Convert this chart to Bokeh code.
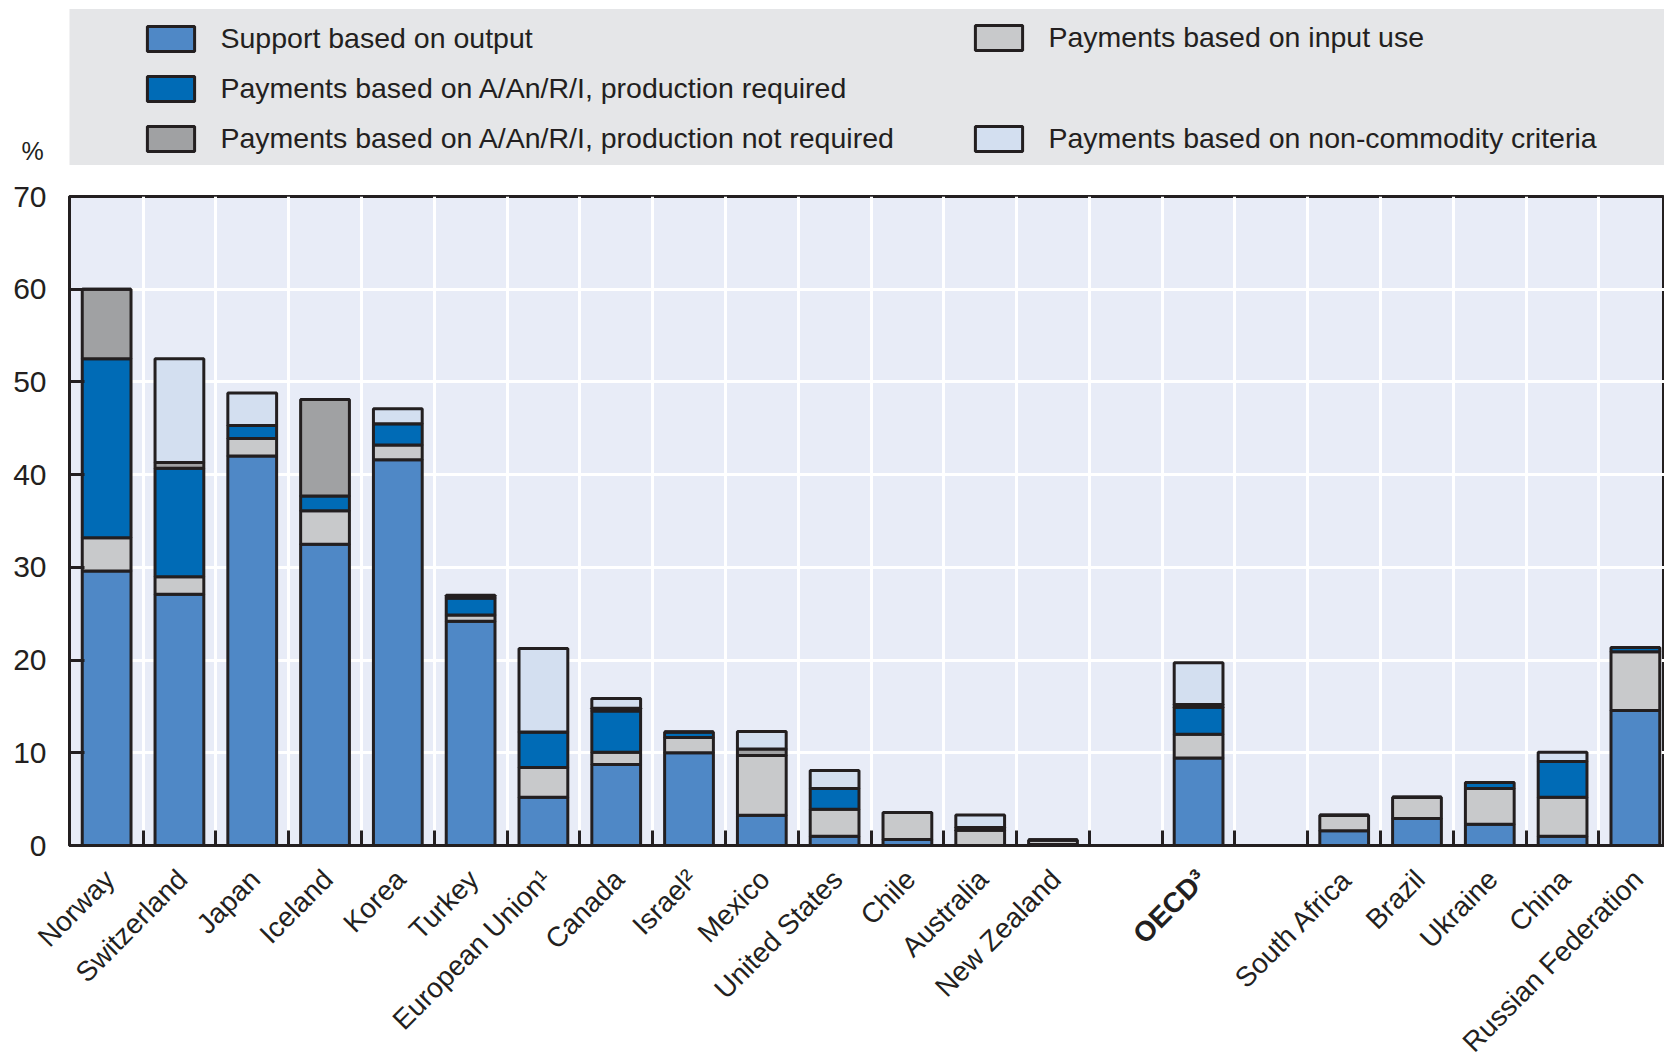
from bokeh.plotting import figure
from bokeh.models import Range1d, FixedTicker, Legend, LegendItem, ColumnDataSource
from bokeh.layouts import column
from bokeh.embed import file_html
from bokeh.resources import INLINE
from bokeh.core.properties import value

# ---------------- data ----------------
countries = ["Norway", "Switzerland", "Japan", "Iceland", "Korea", "Turkey",
             "European Union¹", "Canada", "Israel²", "Mexico", "United States",
             "Chile", "Australia", "New Zealand", "", "OECD³", "",
             "South Africa", "Brazil", "Ukraine", "China", "Russian Federation"]
bold_label = "OECD³"

output_support    = [29.6, 27.1, 42.0, 32.5, 41.6, 24.2, 5.2, 8.75, 10.0, 3.25, 1.0, 0.65, 0.0, 0.1, 0, 9.45, 0, 1.6, 2.9, 2.3, 1.0, 14.55]
input_use         = [3.6, 1.9, 1.9, 3.6, 1.6, 0.65, 3.2, 1.3, 1.65, 6.45, 2.9, 2.9, 1.65, 0.5, 0, 2.55, 0, 1.65, 2.3, 3.85, 4.2, 6.35]
prod_required     = [19.3, 11.7, 1.4, 1.6, 2.3, 1.85, 3.85, 4.45, 0.6, 0.0, 2.25, 0.0, 0.3, 0.0, 0, 2.9, 0, 0.0, 0.0, 0.65, 3.85, 0.45]
prod_not_required = [7.5, 0.6, 0.0, 10.4, 0.0, 0.0, 0.0, 0.3, 0.0, 0.7, 0.0, 0.0, 0.0, 0.0, 0, 0.3, 0, 0.0, 0.0, 0.0, 0.0, 0.0]
non_commodity     = [0.0, 11.2, 3.5, 0.0, 1.6, 0.3, 9.0, 1.05, 0.0, 1.9, 1.95, 0.0, 1.35, 0.0, 0, 4.5, 0, 0.0, 0.0, 0.0, 1.0, 0.0]

series_keys = ["output", "input", "prod_req", "prod_not_req", "non_comm"]
series_names = ["Support based on output",
                "Payments based on input use",
                "Payments based on A/An/R/I, production required",
                "Payments based on A/An/R/I, production not required",
                "Payments based on non-commodity criteria"]
series_colors = ["#4f88c6", "#c8c9cb", "#006bb6", "#a0a1a3", "#d3dff0"]
y_ticks = [0, 10, 20, 30, 40, 50, 60, 70]
unit_label = "%"

# ---------------- style / layout constants ----------------
INK = "#231f20"
FONT = "'Liberation Sans', Arial, sans-serif"
W = 1664
LEG_H = 165
MAIN_TOP, FRAME_H, MAIN_BOTTOM = 31, 649, 17
MAIN_H = MAIN_TOP + FRAME_H + MAIN_BOTTOM
LAB_H = 1059 - LEG_H - MAIN_H
LEFT = 69
X0, X1 = -0.51, 21.40
NAN = float("nan")

# ---------------- legend panel ----------------
lf = figure(width=W, height=LEG_H, x_range=Range1d(0, W), y_range=Range1d(0, LEG_H),
            toolbar_location=None, output_backend="svg",
            x_axis_type=None, y_axis_type=None,
            min_border_left=0, min_border_right=0, min_border_top=0, min_border_bottom=0,
            background_fill_color="white", border_fill_color="white",
            outline_line_color=None)
lf.frame_align = False
lf.xgrid.visible = False
lf.ygrid.visible = False
lf.quad(left=[LEFT], right=[W], bottom=[0.5], top=[156.5],
        fill_color="#e5e6e8", line_color=None)

# legend swatch carriers: styled like the bars, with no drawable point
dummy = {}
for k, c in zip(series_keys, series_colors):
    dummy[k] = lf.vbar(x=[NAN], top=[NAN], width=1, fill_color=c, line_color=INK, line_width=3)
name_of = dict(zip(series_keys, series_names))

common = dict(orientation="vertical", padding=0, margin=0,
              glyph_width=59, glyph_height=31, label_standoff=21,
              label_text_font=FONT, label_text_font_size="28.5px", label_text_color=INK,
              background_fill_alpha=0, border_line_color=None)

legA = Legend(items=[LegendItem(label=name_of[k], renderers=[dummy[k]])
                     for k in ["output", "prod_req", "prod_not_req"]],
              location=(140.5, 10.5), spacing=17, **common)
legB = Legend(items=[LegendItem(label=name_of[k], renderers=[dummy[k]])
                     for k in ["input", "non_comm"]],
              location=(968.5, 10.5), spacing=68, **common)
lf.add_layout(legA)
lf.add_layout(legB)
lf.text(x=[32], y=[15], text=[unit_label], text_align="center", text_baseline="middle",
        text_font=value(FONT), text_font_size="25px", text_color=INK)

# ---------------- main chart ----------------
n = len(countries)
xs = list(range(n))
source = ColumnDataSource(dict(x=xs, output=output_support, input=input_use,
                               prod_req=prod_required, prod_not_req=prod_not_required,
                               non_comm=non_commodity))

p = figure(width=W, height=MAIN_H, x_range=Range1d(X0, X1), y_range=Range1d(0, 70),
           toolbar_location=None, output_backend="svg",
           min_border_left=LEFT, min_border_right=0, min_border_top=MAIN_TOP,
           min_border_bottom=MAIN_BOTTOM,
           background_fill_color="#e8ecf7", border_fill_color="white",
           outline_line_color=INK, outline_line_width=3)
p.frame_align = False

p.vbar_stack(series_keys, x="x", width=0.67, source=source,
             fill_color=series_colors, line_color=INK, line_width=3)

boundaries = [i + 0.5 for i in range(n - 1)]
xt = FixedTicker(ticks=[], minor_ticks=boundaries)
p.xaxis.ticker = xt
p.xaxis.major_tick_line_color = None
p.xaxis.major_label_standoff = 0
p.xaxis.major_label_text_font_size = "0px"
p.xaxis.minor_tick_in = 15
p.xaxis.minor_tick_out = 0
p.xaxis.minor_tick_line_color = INK
p.xaxis.minor_tick_line_width = 3
p.xaxis.axis_line_color = INK
p.xaxis.axis_line_width = 3

p.xgrid.ticker = xt
p.xgrid.grid_line_color = None
p.xgrid.minor_grid_line_color = "white"
p.xgrid.minor_grid_line_width = 3

yt = FixedTicker(ticks=y_ticks)
p.yaxis.ticker = yt
p.yaxis.major_tick_in = 15
p.yaxis.major_tick_out = 0
p.yaxis.major_tick_line_color = INK
p.yaxis.major_tick_line_width = 3
p.yaxis.minor_tick_line_color = None
p.yaxis.axis_line_color = INK
p.yaxis.axis_line_width = 3
p.yaxis.major_label_text_font = FONT
p.yaxis.major_label_text_font_size = "30px"
p.yaxis.major_label_text_color = INK
p.yaxis.major_label_standoff = 23

p.ygrid.ticker = yt
p.ygrid.grid_line_color = "white"
p.ygrid.grid_line_width = 3

# ---------------- category labels (same x scale as the chart) ----------------
unit = (W - LEFT) / (X1 - X0)
lab = figure(width=W, height=LAB_H, x_range=Range1d(X0 - LEFT / unit, X1),
             y_range=Range1d(-LAB_H, 0),
             toolbar_location=None, output_backend="svg",
             x_axis_type=None, y_axis_type=None,
             min_border_left=0, min_border_right=0, min_border_top=0, min_border_bottom=0,
             background_fill_color="white", border_fill_color="white",
             outline_line_color=None)
lab.frame_align = False
lab.xgrid.visible = False
lab.ygrid.visible = False

norm = [(i, c) for i, c in enumerate(countries) if c and c != bold_label]
bold = [(i, c) for i, c in enumerate(countries) if c == bold_label]
label_gap = 29 - MAIN_BOTTOM
label_dx = 3 / unit
lab.text(x=[i + label_dx for i, _ in norm], y=[-label_gap] * len(norm),
         text=[c for _, c in norm], angle=0.79,
         text_align="right", text_baseline="middle",
         text_font=value(FONT), text_font_size="28px", text_color=INK)
lab.text(x=[i + label_dx for i, _ in bold], y=[-label_gap] * len(bold),
         text=[c for _, c in bold], angle=0.79,
         text_align="right", text_baseline="middle",
         text_font=value(FONT), text_font_size="28px", text_font_style="bold",
         text_color=INK)

layout = column(lf, p, lab)
open("out.html", "w").write(file_html(layout, INLINE))
